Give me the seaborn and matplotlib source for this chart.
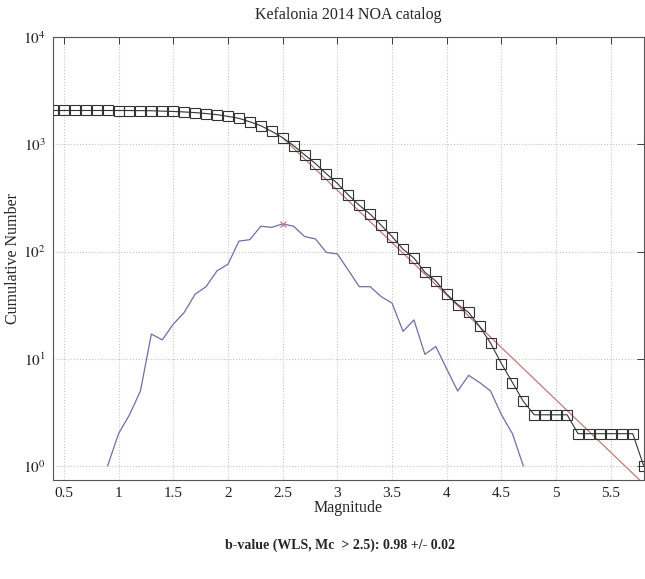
import numpy as np
import pandas as pd
import matplotlib
matplotlib.use("Agg")
import matplotlib.pyplot as plt
import seaborn as sns

# Magnitude bins (0.1 step) and cumulative number of events
cum_mag = [0.4, 0.5, 0.6, 0.7, 0.8, 0.9, 1.0, 1.1, 1.2, 1.3, 1.4, 1.5, 1.6, 1.7,
           1.8, 1.9, 2.0, 2.1, 2.2, 2.3, 2.4, 2.5, 2.6, 2.7, 2.8, 2.9, 3.0, 3.1,
           3.2, 3.3, 3.4, 3.5, 3.6, 3.7, 3.8, 3.9, 4.0, 4.1, 4.2, 4.3, 4.4, 4.5,
           4.6, 4.7, 4.8, 4.9, 5.0, 5.1, 5.2, 5.3, 5.4, 5.5, 5.6, 5.7, 5.8]
cum_n = [2066, 2066, 2066, 2066, 2066, 2066, 2065, 2063, 2060, 2055, 2038, 2023,
         2002, 1975, 1935, 1888, 1822, 1746, 1621, 1492, 1320, 1152, 971, 799,
         661, 530, 432, 337, 270, 223, 176, 138, 105, 87, 64, 53, 40, 32, 27,
         20, 14, 9, 6, 4, 3, 3, 3, 3, 2, 2, 2, 2, 2, 2, 1]

# Non-cumulative counts per bin
inc_mag = [0.9, 1.0, 1.1, 1.2, 1.3, 1.4, 1.5, 1.6, 1.7, 1.8, 1.9, 2.0, 2.1, 2.2,
           2.3, 2.4, 2.5, 2.6, 2.7, 2.8, 2.9, 3.0, 3.1, 3.2, 3.3, 3.4, 3.5, 3.6,
           3.7, 3.8, 3.9, 4.0, 4.1, 4.2, 4.3, 4.4, 4.5, 4.6, 4.7]
inc_n = [1, 2, 3, 5, 17, 15, 21, 27, 40, 47, 66, 76, 125, 129, 172, 168, 181,
         172, 138, 131, 98, 95, 67, 47, 47, 38, 33, 18, 23, 11, 13, 8, 5, 7, 6,
         5, 3, 2, 1]

# WLS fit line (from Mc to the end of the axis)
fit_mag = [2.5, 5.8]
fit_n = [1150, 0.68]

mc = 2.5
mc_count = 181

x_ticks = [0.5, 1, 1.5, 2, 2.5, 3, 3.5, 4, 4.5, 5, 5.5]
x_tick_labels = ["0.5", "1", "1.5", "2", "2.5", "3", "3.5", "4", "4.5", "5", "5.5"]
y_ticks = [1, 10, 100, 1000, 10000]
y_tick_labels = [r"$10^{0}$", r"$10^{1}$", r"$10^{2}$", r"$10^{3}$", r"$10^{4}$"]

sns.set_style("white")
plt.rcParams["font.family"] = ["Liberation Serif", "DejaVu Serif"]
plt.rcParams["mathtext.fontset"] = "stix"

fig = plt.figure(figsize=(6.45, 5.79), dpi=100)
ax = fig.add_axes([0.082, 0.171, 0.916, 0.765])

cum_df = pd.DataFrame({"mag": cum_mag, "n": cum_n})
inc_df = pd.DataFrame({"mag": inc_mag, "n": inc_n})
fit_df = pd.DataFrame({"mag": fit_mag, "n": fit_n})

sns.lineplot(data=inc_df, x="mag", y="n", ax=ax, color="#6e6ea8", linewidth=0.9)
sns.lineplot(data=fit_df, x="mag", y="n", ax=ax, color="#c07a7a", linewidth=0.9)
sns.lineplot(data=cum_df, x="mag", y="n", ax=ax, color="#333333", linewidth=0.8,
             marker="s", markersize=7, markerfacecolor="none",
             markeredgecolor="#333333", markeredgewidth=0.8)
ax.plot([mc], [mc_count], marker="x", color="#c07a9a", markersize=5, mew=0.9)

ax.set_yscale("log")
ax.set_xlim(0.4, 5.8)
ax.set_ylim(0.74, 10000)
ax.set_xticks(x_ticks)
ax.set_xticklabels(x_tick_labels)
ax.set_yticks(y_ticks)
ax.set_yticklabels(y_tick_labels)
ax.yaxis.set_minor_locator(matplotlib.ticker.NullLocator())

ax.grid(True, which="major", linestyle=":", color="#c4c4c4", linewidth=0.8)
ax.tick_params(direction="in", top=True, right=True, length=5, width=0.6,
               labelsize=11, colors="#222222", pad=5)
for sp in ax.spines.values():
    sp.set_color("#555555")
    sp.set_linewidth(0.8)

ax.set_xlabel("Magnitude", fontsize=11.5, labelpad=0)
ax.set_ylabel("Cumulative Number", fontsize=11.5, labelpad=2)
ax.set_title("Kefalonia 2014 NOA catalog", fontsize=11.5, pad=13)

fig.text(0.527, 0.059, "b-value (WLS, Mc  > 2.5): 0.98 +/- 0.02",
         ha="center", va="center", fontsize=10, fontweight="bold")

fig.savefig("out.png", dpi=100)
